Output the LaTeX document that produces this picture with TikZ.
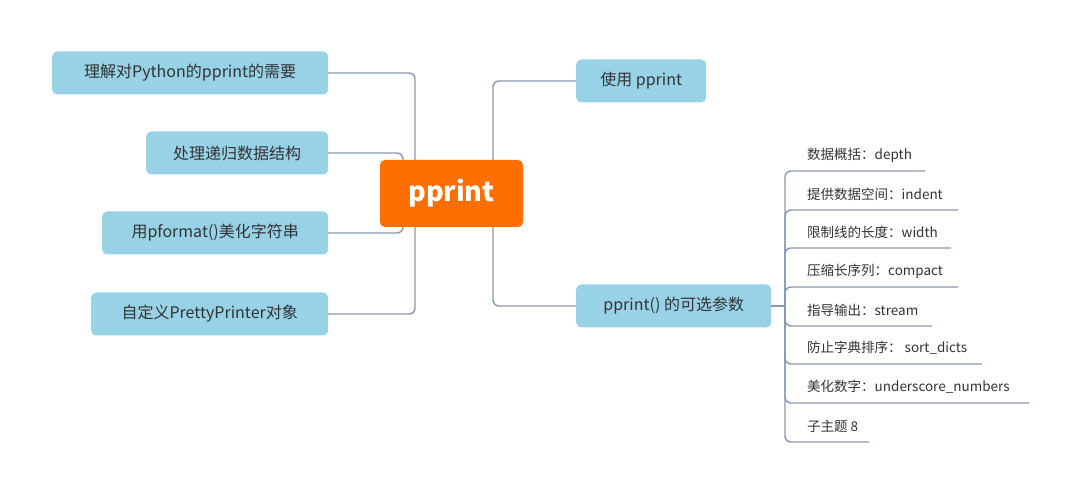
\documentclass[tikz,border=0pt]{standalone}
\usepackage{fontspec}
\setmainfont{Noto Sans CJK SC}
\begin{document}
\begin{tikzpicture}[x=1pt,y=-1pt,
  ln/.style={draw=lnc,line width=1.4pt,rounded corners=6pt},
  topic/.style={fill=blu,rounded corners=5pt,text=txt,font=\fontsize{16}{18}\selectfont,inner sep=0pt,anchor=west,minimum height=43pt},
  sub/.style={text=txt,font=\fontsize{13.5}{15}\selectfont,anchor=west,inner sep=0pt}]
\definecolor{lnc}{HTML}{8C99AD}
\definecolor{blu}{HTML}{98D2E7}
\definecolor{txt}{HTML}{333333}
\definecolor{org}{HTML}{FF6F00}
\useasboundingbox (0,0) rectangle (1080,494);
\fill[white] (0,0) rectangle (1080,494);
% connectors first
\coordinate (l1) at (328,73); \coordinate (l2) at (328,153);
\coordinate (l3) at (328,233); \coordinate (l4) at (328,314);
\draw[ln] (l1) -- (415,73) -- (415,314) -- (l4);
\draw[ln] (l2) -- (403,153) -- (403,233) -- (l3);
\draw[ln] (576,81) -- (493,81) -- (493,306) -- (576,306);
\draw[ln] (771,306) -- (785,306);
\foreach \y/\r in {171/925,210/958,248/951,287/958,326/932,364/982,403/1029,442/869}{
  \draw[ln] (785,306) -- (785,\y) -- (\r,\y);
}
\node[fill=org,rounded corners=5pt,text=white,font=\bfseries\fontsize{27}{30}\selectfont,minimum width=143pt,minimum height=67pt,inner sep=0pt] (c) at (451.5,193.5) {pprint};
\node[topic,minimum width=276pt] (a1) at (52,73) {理解对Python的pprint的需要};
\node[topic,minimum width=182pt] (a2) at (146,153) {处理递归数据结构};
\node[topic,minimum width=226pt] (a3) at (102,233) {用pformat()美化字符串};
\node[topic,minimum width=237pt] (a4) at (91,314) {自定义PrettyPrinter对象};
\node[topic,minimum width=130pt] (b1) at (576,81) {使用 pprint};
\node[topic,minimum width=195pt] (b2) at (576,306) {pprint() 的可选参数};
\node[sub] (s1) at (807,155) {数据概括：depth};
\node[sub] (s2) at (807,194) {提供数据空间：indent};
\node[sub] (s3) at (807,232) {限制线的长度：width};
\node[sub] (s4) at (807,271) {压缩长序列：compact};
\node[sub] (s5) at (807,310) {指导输出：stream};
\node[sub] (s6) at (807,348) {防止字典排序： sort\_dicts};
\node[sub] (s7) at (807,387) {美化数字：underscore\_numbers};
\node[sub] (s8) at (807,426) {子主题 8};
\end{tikzpicture}
\end{document}
